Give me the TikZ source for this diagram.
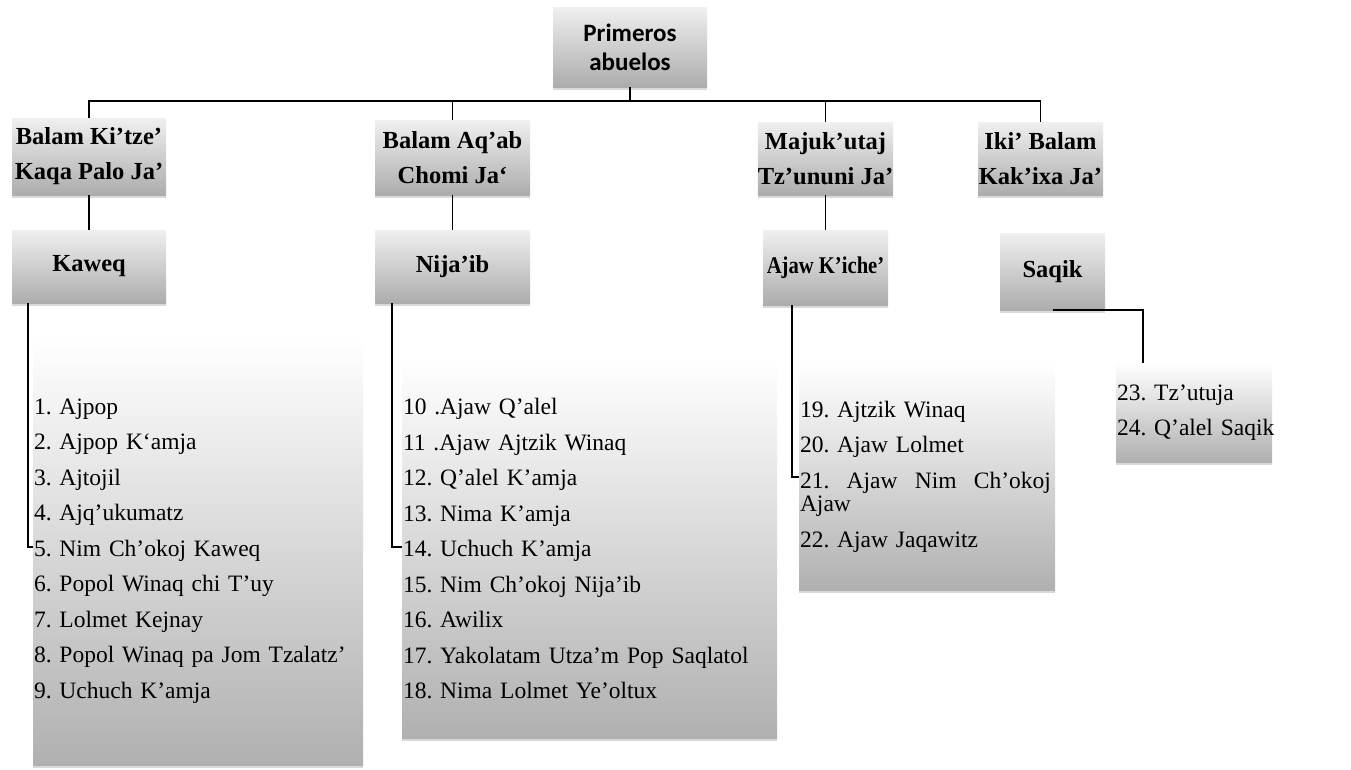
\documentclass[tikz,border=0pt]{standalone}
\usepackage{fontspec}
\setmainfont{Liberation Serif}
\newfontfamily\calib{Carlito}
\newfontfamily\narrowserif[FakeStretch=0.86]{Liberation Serif}
\usetikzlibrary{shadows}
\begin{document}
\frenchspacing
\begin{tikzpicture}[x=1pt,y=-1pt,
  shad/.style={drop shadow={opacity=0.3,shadow xshift=0pt,shadow yshift=-3pt}},
  box/.style={shad,top color=gray!12,bottom color=gray!65,inner sep=0pt,align=center,
    font=\bfseries\fontsize{24.5}{35}\selectfont},
  lst/.style={shad,top color=white,bottom color=gray!62,inner xsep=1pt,inner ysep=0pt,align=left,
    font=\frenchspacing\fontsize{23.5}{35.5}\selectfont},
  conn/.style={draw=black,line width=1.6pt}]
\useasboundingbox (0,0) rectangle (1351,769);
% top
\node[box,minimum width=154pt,minimum height=80pt,font=\calib\bfseries\fontsize{25}{29}\selectfont] (pa) at (630,47) {Primeros\\abuelos};
% level 1
\node[box,minimum width=154pt,minimum height=77pt] (b1) at (89,156.5) {Balam Ki’tze’\\Kaqa Palo Ja’};
\node[box,minimum width=155pt,minimum height=75pt] (b2) at (452.5,157.5) {Balam Aq’ab\\Chomi Ja‘};
\node[box,minimum width=125pt,minimum height=73pt] (b3) at (825.5,158.5) {Majuk’utaj\\Tz’ununi Ja’};
\node[box,minimum width=125pt,minimum height=73pt] (b4) at (1040.5,158.5) {Iki’ Balam\\Kak’ixa Ja’};
% level 2
\node[box,minimum width=154pt,minimum height=73pt] (c1) at (89,266.5) {Kaweq};
\node[box,minimum width=155pt,minimum height=73pt] (c2) at (452.5,266.5) {Nija’ib};
\node[box,minimum width=125pt,minimum height=75pt,font=\narrowserif\bfseries\fontsize{24}{35}\selectfont] (c3) at (825.5,267.5) {Ajaw K’iche’};
\node[box,minimum width=105pt,minimum height=77pt] (c4) at (1052.5,271.5) {Saqik};
% lists
\node[lst,minimum width=330pt,minimum height=428pt,text width=328pt] (l1) at (198,551) {1. Ajpop\\2. Ajpop K‘amja\\3. Ajtojil\\4. Ajq’ukumatz\\5. Nim Ch’okoj  Kaweq\\6. Popol Winaq chi T’uy\\7. Lolmet Kejnay\\8. Popol Winaq pa Jom Tzalatz’\\9. Uchuch K’amja};
\node[lst,minimum width=375pt,minimum height=378pt,text width=373pt] (l2) at (589.5,549) {10 .Ajaw Q’alel\\11 .Ajaw Ajtzik  Winaq\\12. Q’alel K’amja\\13. Nima K’amja\\14. Uchuch K’amja\\15. Nim Ch’okoj Nija’ib\\16. Awilix\\17. Yakolatam Utza’m Pop Saqlatol\\18. Nima Lolmet  Ye’oltux};
\node[lst,minimum width=256pt,minimum height=227pt,text width=254pt] (l3) at (927,476.5) {19. Ajtzik  Winaq\\20. Ajaw Lolmet\\\leavevmode\hbox to 251pt{21.\hfill Ajaw\hfill Nim\hfill Ch’okoj}\\[-12pt]Ajaw\\22. Ajaw Jaqawitz};
\node[lst,minimum width=156pt,minimum height=99pt,text width=154pt] (l4) at (1194,412.5) {23. Tz’utuja\\\mbox{24. Q’alel Saqik}};
% connector points
\coordinate (bus) at (631,101);
\coordinate (k1) at (33,547);
\coordinate (k2) at (402,547);
\coordinate (k3) at (799,477);
\coordinate (k4) at (1143,363);
% connectors
\draw[conn] (pa.south) -- (pa.south |- bus);
\draw[conn] (b1.north) -- (b1.north |- bus) -- (b4.north |- bus) -- (b4.north);
\draw[conn] (b2.north) -- (b2.north |- bus);
\draw[conn] (b3.north) -- (b3.north |- bus);
\draw[conn] (b1) -- (c1);
\draw[conn] (b2) -- (c2);
\draw[conn] (b3) -- (c3);
\draw[conn,line width=1.2pt] ([xshift=-61pt]c1.south) |- (k1);
\draw[conn,line width=1.2pt] ([xshift=-60.5pt]c2.south) |- (k2);
\draw[conn,line width=1.2pt] ([xshift=-33.5pt]c3.south) |- (k3);
\draw[conn] (c4.south) -| (k4);
\end{tikzpicture}
\end{document}
